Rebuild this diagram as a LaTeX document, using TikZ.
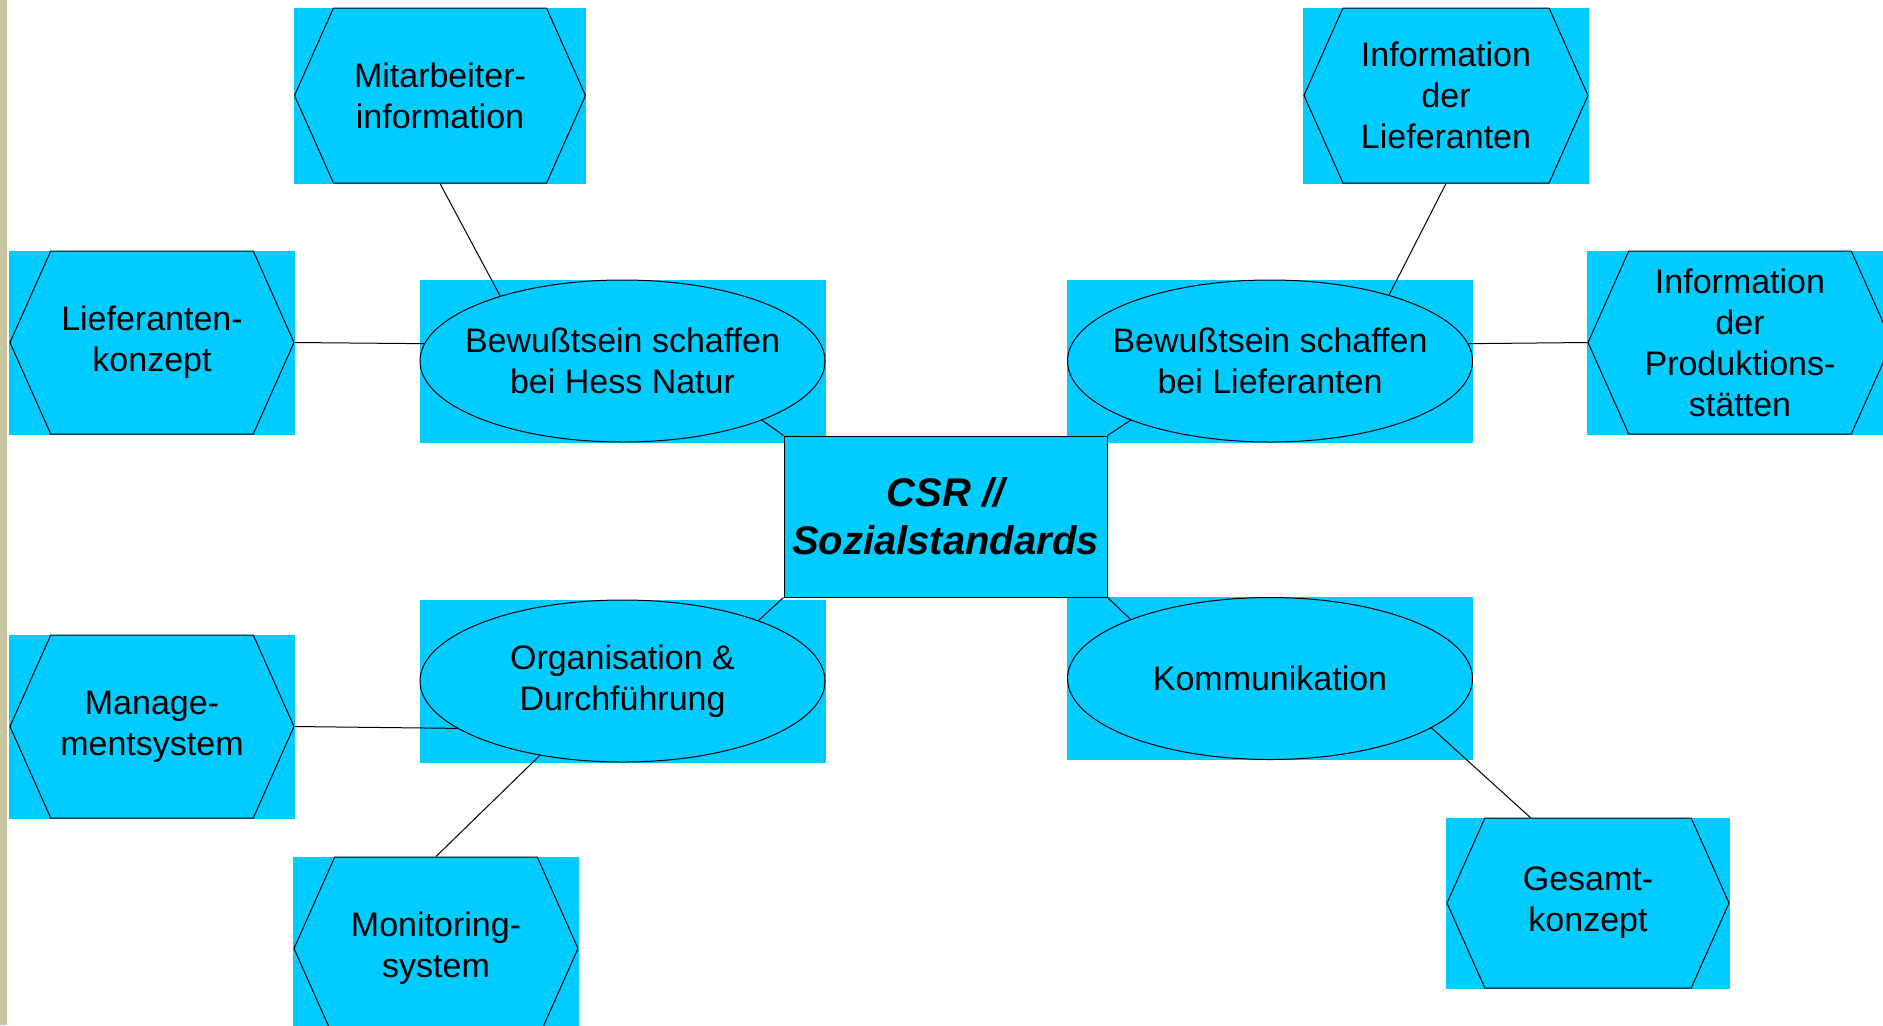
\documentclass[tikz,border=0pt]{standalone}
\usepackage{fontspec}
\setmainfont{Liberation Sans}
\usetikzlibrary{shapes.geometric,shapes.symbols,backgrounds}
\definecolor{csrcyan}{HTML}{00CCFF}
\definecolor{sidebar}{HTML}{C9C7A1}

\begin{document}
\begin{tikzpicture}[x=0.5pt,y=-0.5pt,
	hexa/.style={signal,signal to=west and east,signal pointer angle=132,draw=black,line width=0.5pt,fill=csrcyan,
		minimum width=142pt,minimum height=91.5pt,inner sep=0pt,align=center,font=\fontsize{17}{20.5}\selectfont},
	oval/.style={ellipse,draw=black,line width=0.5pt,fill=csrcyan,minimum width=202.5pt,minimum height=81pt,
		inner xsep=-12pt,inner ysep=0pt,align=center,font=\fontsize{17}{20.5}\selectfont},
	link/.style={draw=black,line width=0.5pt}]
		\clip (0,0) rectangle (1883,1025);
		% middle
		\node[draw=black,line width=0.5pt,fill=csrcyan,minimum width=161.5pt,minimum height=80.5pt,align=center,
			font=\fontsize{20}{24}\selectfont\bfseries\itshape] (csr) at (945.5,516.5) {CSR //\\Sozialstandards};
		\node[oval] (hess) at (622.5,361) {Bewußtsein schaffen\\bei Hess Natur};
		\node[oval] (lief) at (1270,361) {Bewußtsein schaffen\\bei Lieferanten};
		\node[oval] (org) at (622.5,681) {Organisation \&\\Durchführung};
		\node[oval] (kom) at (1270,678.5) {Kommunikation};
		% outer
		\node[hexa,minimum width=145.5pt,minimum height=87.5pt] (mit) at (440,95.5) {Mitarbeiter-\\information};
		\node[hexa] (lkon) at (152,342.5) {Lieferanten-\\konzept};
		\node[hexa,minimum height=87.5pt] (infl) at (1446,95.5) {Information\\der\\Lieferanten};
		\node[hexa,minimum width=152pt] (prod) at (1740,342.5) {Information\\der\\Produktions-\\stätten};
		\node[hexa] (mgmt) at (152,726.5) {Manage-\\mentsystem};
		\node[hexa] (mon) at (436,948.5) {Monitoring-\\system};
		\node[hexa,minimum width=141pt,minimum height=85pt] (ges) at (1588,903) {Gesamt-\\konzept};
		
		\begin{scope}[on background layer]
			\fill[sidebar] (0,0) rectangle (7,1025);
			\foreach \n in {mit,lkon,infl,prod,mgmt,mon,ges,hess,lief,org,kom}
				\fill[csrcyan] (\n.west |- \n.north) rectangle (\n.east |- \n.south);
		\end{scope}
		
		\draw[link] (mit.south) -- (hess.152.8);
		\draw[link] (lkon.east) -- (hess.175);
		\draw[link] (hess.-23.2) -- (csr.north west);
		\draw[link] (lief.-157.3) -- (csr.north east);
		\draw[link] (infl.south) -- (lief.29.8);
		\draw[link] (prod.west) -- (lief.5.5);
		\draw[link] (org.24.1) -- (csr.south west);
		\draw[link] (kom.157) -- (csr.south east);
		\draw[link] (mgmt.east) -- (org.-164.7);
		\draw[link] (mon.north) -- (org.-138);
		\draw[link] (ges.124.3) -- (kom.-17.6);
	\end{tikzpicture}
\end{document}
